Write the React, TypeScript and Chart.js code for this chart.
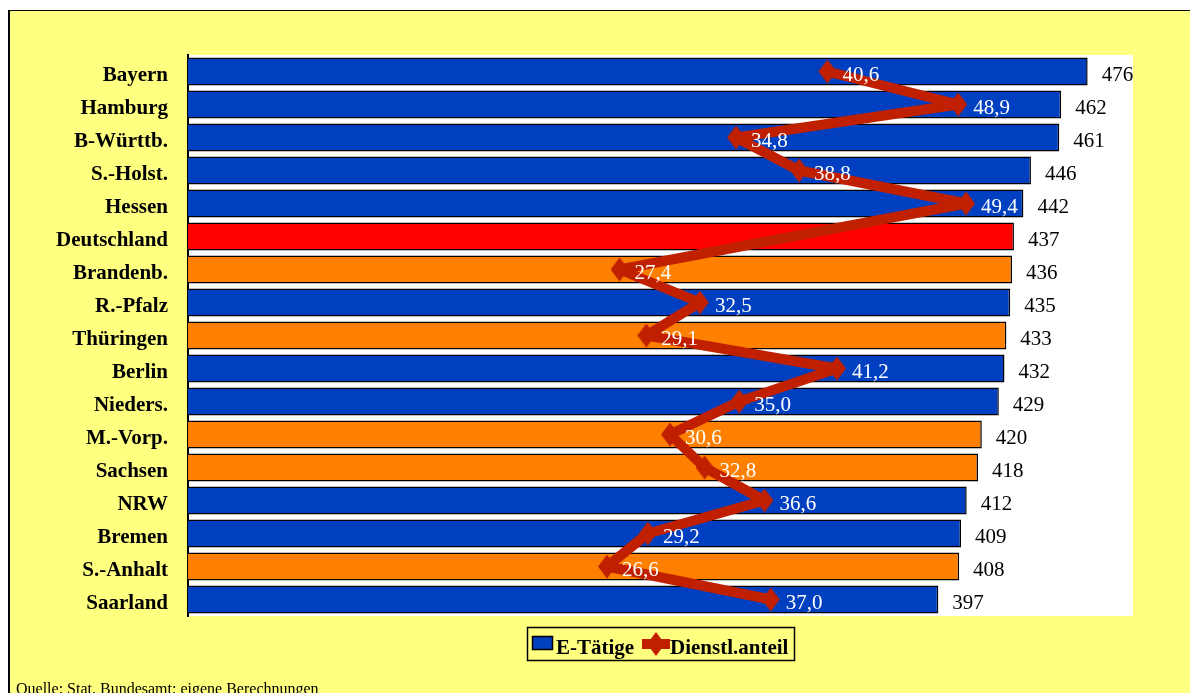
import React, { useEffect, useRef } from 'react';
import { Chart, registerables } from 'chart.js';

Chart.register(...registerables);

const categories = [
  'Bayern', 'Hamburg', 'B-Württb.', 'S.-Holst.', 'Hessen', 'Deutschland', 'Brandenb.',
  'R.-Pfalz', 'Thüringen', 'Berlin', 'Nieders.', 'M.-Vorp.', 'Sachsen', 'NRW',
  'Bremen', 'S.-Anhalt', 'Saarland',
];
const eTaetige = [476, 462, 461, 446, 442, 437, 436, 435, 433, 432, 429, 420, 418, 412, 409, 408, 397];
const dienstlAnteil: (number | null)[] = [
  40.6, 48.9, 34.8, 38.8, 49.4, null, 27.4, 32.5, 29.1, 41.2, 35.0, 30.6, 32.8, 36.6, 29.2, 26.6, 37.0,
];
const regionGroup = [
  'west', 'west', 'west', 'west', 'west', 'bund', 'ost', 'west', 'ost', 'west', 'west',
  'ost', 'ost', 'west', 'west', 'ost', 'west',
];
const seriesNames = ['E-Tätige', 'Dienstl.anteil'];
const sourceText = 'Quelle: Stat. Bundesamt; eigene Berechnungen';

const BLUE = '#0040C0';
const ORANGE = '#FF8000';
const RED = '#FF0000';
const LINE = '#C02000';
const YELLOW = '#FFFF80';
const FONT = "'Liberation Serif', 'Times New Roman', serif";
const groupColor: Record<string, string> = { west: BLUE, ost: ORANGE, bund: RED };

const fmt = (v: number) => v.toFixed(1).replace('.', ',');

function makeDiamond(w: number, h: number): HTMLCanvasElement {
  const c = document.createElement('canvas');
  c.width = w;
  c.height = h;
  const g = c.getContext('2d')!;
  g.fillStyle = LINE;
  g.beginPath();
  g.moveTo(w / 2, 0);
  g.lineTo(w, h / 2);
  g.lineTo(w / 2, h);
  g.lineTo(0, h / 2);
  g.closePath();
  g.fill();
  return c;
}

const plotBg = {
  id: 'plotBg',
  beforeDraw(chart: any) {
    const { ctx, chartArea: a } = chart;
    ctx.save();
    ctx.fillStyle = '#FFFFFF';
    ctx.fillRect(a.left, a.top, a.right - a.left, a.bottom - a.top);
    ctx.restore();
  },
};

const valueLabels = {
  id: 'valueLabels',
  afterDatasetsDraw(chart: any) {
    const { ctx } = chart;
    ctx.save();
    ctx.font = `21px ${FONT}`;
    ctx.textAlign = 'left';
    ctx.textBaseline = 'middle';
    const bars = chart.getDatasetMeta(0).data;
    bars.forEach((bar: any, i: number) => {
      ctx.fillStyle = '#000';
      ctx.fillText(String(eTaetige[i]), bar.x + 14, bar.y + 4);
    });
    const pts = chart.getDatasetMeta(1).data;
    pts.forEach((pt: any, i: number) => {
      const v = dienstlAnteil[i];
      if (v == null) return;
      ctx.fillStyle = '#FFFFFF';
      ctx.fillText(fmt(v), pt.x + 15, pt.y + 4);
    });
    ctx.restore();
  },
};

const legendAndSource = {
  id: 'legendAndSource',
  afterDraw(chart: any) {
    const { ctx } = chart;
    ctx.save();
    // legend box
    ctx.strokeStyle = '#000';
    ctx.lineWidth = 1.5;
    ctx.strokeRect(527.5, 627.5, 267, 33);
    // bar swatch
    ctx.fillStyle = BLUE;
    ctx.fillRect(532, 636, 21, 14);
    ctx.lineWidth = 1.5;
    ctx.strokeRect(532.5, 636.5, 20, 13);
    ctx.font = `bold 21px ${FONT}`;
    ctx.fillStyle = '#000';
    ctx.textBaseline = 'alphabetic';
    ctx.fillText(seriesNames[0], 556, 654);
    // line swatch
    ctx.strokeStyle = LINE;
    ctx.lineWidth = 10;
    ctx.beginPath();
    ctx.moveTo(642, 644);
    ctx.lineTo(670, 644);
    ctx.stroke();
    ctx.fillStyle = LINE;
    ctx.beginPath();
    ctx.moveTo(656, 632);
    ctx.lineTo(665, 644);
    ctx.lineTo(656, 656);
    ctx.lineTo(647, 644);
    ctx.closePath();
    ctx.fill();
    ctx.fillStyle = '#000';
    ctx.fillText(seriesNames[1], 670, 654);
    // source
    ctx.font = `16px ${FONT}`;
    ctx.fillText(sourceText, 16, 694);
    ctx.restore();
  },
};

export default function App() {
  const canvasRef = useRef<HTMLCanvasElement | null>(null);

  useEffect(() => {
    const canvas = canvasRef.current;
    if (!canvas) return;
    const diamond = makeDiamond(18, 24);
    const chart = new Chart(canvas, {
      type: 'bar',
      data: {
        labels: categories,
        datasets: [
          {
            type: 'bar',
            label: seriesNames[0],
            data: eTaetige,
            backgroundColor: regionGroup.map((g) => groupColor[g]),
            borderColor: '#000',
            borderWidth: 1.5,
            barPercentage: 0.85,
            categoryPercentage: 1,
            xAxisID: 'x',
            yAxisID: 'y',
            order: 2,
          },
          {
            type: 'line',
            label: seriesNames[1],
            data: dienstlAnteil,
            borderColor: LINE,
            backgroundColor: LINE,
            borderWidth: 10,
            borderJoinStyle: 'round',
            pointStyle: diamond,
            pointRadius: 12,
            pointBackgroundColor: LINE,
            pointBorderColor: LINE,
            spanGaps: true,
            fill: false,
            xAxisID: 'x2',
            yAxisID: 'y',
            order: 1,
          } as any,
        ],
      },
      options: {
        indexAxis: 'y',
        responsive: false,
        animation: false,
        layout: { padding: { left: 10, top: 55, right: 57, bottom: 77 } },
        scales: {
          x: { type: 'linear', display: false, min: 0, max: 500 },
          x2: { type: 'linear', axis: 'x', display: false, min: 0, max: 60 },
          y: {
            type: 'category',
            position: 'left',
            grid: { display: false, drawTicks: false },
            border: { display: true, color: '#000', width: 2 },
            ticks: {
              color: '#000',
              padding: 20,
              labelOffset: 4,
              font: { family: FONT, size: 21, weight: 'bold' },
            },
            afterFit: (scale: any) => {
              scale.width = 178;
            },
          },
        } as any,
        plugins: {
          legend: { display: false },
          tooltip: { enabled: false },
        },
      },
      plugins: [plotBg, valueLabels, legendAndSource],
    });
    return () => chart.destroy();
  }, []);

  return (
    <div>
      <div
        style={{
          position: 'fixed',
          left: 8,
          top: 10,
          width: 1200,
          height: 700,
          background: YELLOW,
          borderTop: '1px solid #000',
          borderLeft: '2px solid #000',
          boxSizing: 'border-box',
        }}
      />
      <canvas
        ref={canvasRef}
        width={1190}
        height={693}
        style={{ position: 'fixed', left: 0, top: 0, width: 1190, height: 693 }}
      />
    </div>
  );
}
